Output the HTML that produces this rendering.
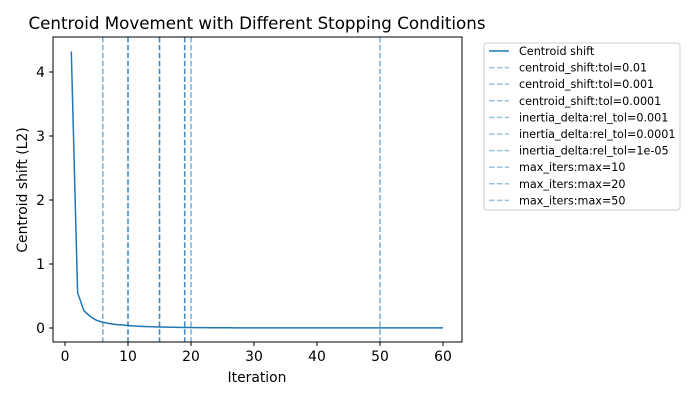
<!DOCTYPE html>
<html><head><meta charset="utf-8"><style>
body{margin:0;background:#fff;}
svg{font-family:"DejaVu Sans","Liberation Sans",sans-serif;}
</style></head><body>
<svg id="c" width="700" height="400" xmlns="http://www.w3.org/2000/svg">
<rect width="700" height="400" fill="#fff"/>
<text x="257" y="29" font-size="16.7" text-anchor="middle">Centroid Movement with Different Stopping Conditions</text>
<g id="vl"></g>
<g id="ln"></g>
<rect x="53" y="37" width="409" height="305" fill="none" stroke="#000" stroke-width="1"/>
<g id="ax"></g>
<text x="257" y="382" font-size="13.9" text-anchor="middle">Iteration</text>
<text transform="translate(27,190) rotate(-90)" font-size="13.9" text-anchor="middle">Centroid shift (L2)</text>
<g>
<rect x="484" y="43" width="196" height="167" rx="3" fill="#fff" stroke="#ccc"/>
<g id="lg"></g>
</g>
</svg>
<script>
const iterations=[];for(let i=1;i<=60;i++)iterations.push(i);
const shifts=[4.32,0.55,0.27,0.18,0.12,0.09,0.07,0.055,0.048,0.04,0.032,0.026,0.022,0.019,0.016,0.013,0.011,0.009,0.008,0.007,0.006,0.005,0.004,0.004,0.003,0.003,0.002,0.002,0.002,0.002,0.001,0.001,0.001,0.001,0.001,0.001,0.001,0.001,0.001,0.001,0.001,0.001,0.001,0.001,0.001,0.001,0.001,0.001,0.001,0.001,0.001,0.001,0.001,0.001,0.001,0.001,0.001,0.001,0.001,0.001];
const stopLabels=["centroid_shift:tol=0.01","centroid_shift:tol=0.001","centroid_shift:tol=0.0001","inertia_delta:rel_tol=0.001","inertia_delta:rel_tol=0.0001","inertia_delta:rel_tol=1e-05","max_iters:max=10","max_iters:max=20","max_iters:max=50"];
const stopIters=[6,15,19,10,15,19,10,20,50];
const xTicks=[0,10,20,30,40,50,60];
const yTicks=[0,1,2,3,4];
const NS="http://www.w3.org/2000/svg";
const X=v=>65+v*6.3, Y=v=>328-v*64;
function mk(t,a,p){const e=document.createElementNS(NS,t);for(const k in a)e.setAttribute(k,a[k]);p.appendChild(e);return e;}
const vl=document.getElementById('vl');
stopIters.forEach((s,i)=>{const l=mk('line',{x1:X(s),x2:X(s),y1:37,y2:342,stroke:'#1f77b4','stroke-opacity':0.6,'stroke-width':1.5,'stroke-dasharray':'5.5,2.4'},vl);

});
const ln=document.getElementById('ln');
const p=mk('polyline',{points:iterations.map((x,i)=>X(x)+','+Y(shifts[i])).join(' '),fill:'none',stroke:'#1f77b4','stroke-width':1.5},ln);


const ax=document.getElementById('ax');
xTicks.forEach(t=>{mk('line',{x1:X(t),x2:X(t),y1:342,y2:346,stroke:'#000'},ax);
const tx=mk('text',{x:X(t),y:361,'font-size':13.9,'text-anchor':'middle'},ax);tx.textContent=t;

});
yTicks.forEach(t=>{mk('line',{x1:49,x2:53,y1:Y(t),y2:Y(t),stroke:'#000'},ax);
const tx=mk('text',{x:45,y:Y(t)+5,'font-size':13.9,'text-anchor':'end'},ax);tx.textContent=t;

});
const lg=document.getElementById('lg');
const labels=["Centroid shift"].concat(stopLabels);
labels.forEach((s,i)=>{const y=51+i*16.6;
const a=i==0?{stroke:'#1f77b4','stroke-width':1.5}:{stroke:'#1f77b4','stroke-opacity':0.45,'stroke-width':1.5,'stroke-dasharray':'5.5,2.4'};
a.x1=489;a.x2=509;a.y1=y;a.y2=y;mk('line',a,lg);
const tx=mk('text',{x:519,y:y+4,'font-size':11.2},lg);tx.textContent=s;

});
</script>
</body></html>
